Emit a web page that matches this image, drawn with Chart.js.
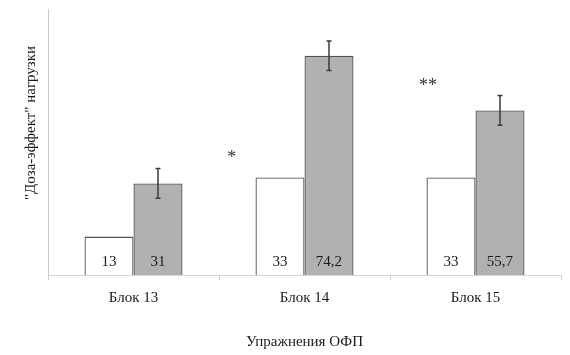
<!DOCTYPE html>
<html>
<head>
<meta charset="utf-8">
<script src="https://cdn.jsdelivr.net/npm/chart.js@4"></script>
<style>
html,body{margin:0;padding:0;background:#fff;}
#wrap{width:570px;height:355px;position:relative;}
</style>
</head>
<body>
<div id="wrap"><canvas id="c"></canvas></div>
<script>
const categories = ['Блок 13', 'Блок 14', 'Блок 15'];
const controlValues = [13, 33, 33];
const loadValues = [31, 74.2, 55.7];
const loadErrors = [5, 5, 5];
const starMarks = ['', '*', '**'];
const starLevels = [null, 41.3, 65.5];
const yTitle = '"Доза-эффект" нагрузки';
const xTitle = 'Упражнения ОФП';
const yMax = 90;

const SERIF = '"Liberation Serif", "Times New Roman", serif';
const fmt = v => String(v).replace('.', ',');

const extras = {
  id: 'extras',
  afterDatasetsDraw(chart) {
    const ctx = chart.ctx;
    const xs = chart.scales.x, ys = chart.scales.y;
    const area = chart.chartArea;
    ctx.save();
    // error bars on the load series
    const meta1 = chart.getDatasetMeta(1);
    ctx.strokeStyle = '#3a3a3a';
    ctx.lineWidth = 1.5;
    meta1.data.forEach((bar, i) => {
      const v = loadValues[i], e = loadErrors[i];
      const yT = ys.getPixelForValue(v + e), yB = ys.getPixelForValue(v - e);
      const x = bar.x;
      ctx.beginPath();
      ctx.moveTo(x, yT); ctx.lineTo(x, yB);
      ctx.moveTo(x - 2.5, yT); ctx.lineTo(x + 2.5, yT);
      ctx.moveTo(x - 2.5, yB); ctx.lineTo(x + 2.5, yB);
      ctx.stroke();
    });
    // value labels inside bars
    ctx.fillStyle = '#1a1a1a';
    ctx.font = '15px ' + SERIF;
    ctx.textAlign = 'center';
    ctx.textBaseline = 'middle';
    const base = ys.getPixelForValue(0);
    [controlValues, loadValues].forEach((arr, d) => {
      chart.getDatasetMeta(d).data.forEach((bar, i) => {
        ctx.fillText(fmt(arr[i]), bar.x, base - 12.5);
      });
    });
    // significance marks
    const catW = (xs.getPixelForValue(1) - xs.getPixelForValue(0));
    const shifts = [0, -0.426, -0.278];
    ctx.fillStyle = '#333';
    ctx.font = '18px ' + SERIF;
    ctx.textBaseline = 'alphabetic';
    starMarks.forEach((s, i) => {
      if (!s) return;
      const x = xs.getPixelForValue(i) + shifts[i] * catW;
      const y = ys.getPixelForValue(starLevels[i]) + 10;
      ctx.fillText(s, x, y);
    });
    // y axis title
    ctx.font = '15px ' + SERIF;
    ctx.fillStyle = '#1a1a1a';
    ctx.translate(31, (area.top + area.bottom) / 2 - 19);
    ctx.rotate(-Math.PI / 2);
    ctx.textBaseline = 'middle';
    ctx.fillText(yTitle, 0, 0);
    ctx.restore();
  }
};

new Chart(document.getElementById('c'), {
  type: 'bar',
  data: {
    labels: categories,
    datasets: [
      { data: controlValues, backgroundColor: '#ffffff', borderColor: '#505050', borderWidth: 1.3,
        categoryPercentage: 0.573, barPercentage: 1.0 },
      { data: loadValues, backgroundColor: '#b1b1b1', borderColor: '#505050', borderWidth: 1.3,
        categoryPercentage: 0.573, barPercentage: 1.0 }
    ]
  },
  options: {
    responsive: true,
    maintainAspectRatio: false,
    animation: false,
    layout: { padding: { left: 40, right: 9, top: 9, bottom: 0 } },
    plugins: { legend: { display: false }, tooltip: { enabled: false } },
    scales: {
      x: {
        offset: true,
        grid: { display: true, drawOnChartArea: false, offset: true, tickLength: 5, color: '#d0d0d0' },
        border: { display: true, color: '#d6d6d6', width: 1 },
        ticks: { color: '#1a1a1a', font: { family: SERIF, size: 15 }, padding: 9.5 },
        title: { display: true, text: xTitle, color: '#1a1a1a', font: { family: SERIF, size: 15 }, padding: { top: 16, bottom: 4 } }
      },
      y: {
        min: 0, max: yMax,
        grid: { display: false },
        border: { display: true, color: '#c8c8c8', width: 1 },
        ticks: { display: false }
      }
    }
  },
  plugins: [extras]
});
</script>
</body>
</html>
